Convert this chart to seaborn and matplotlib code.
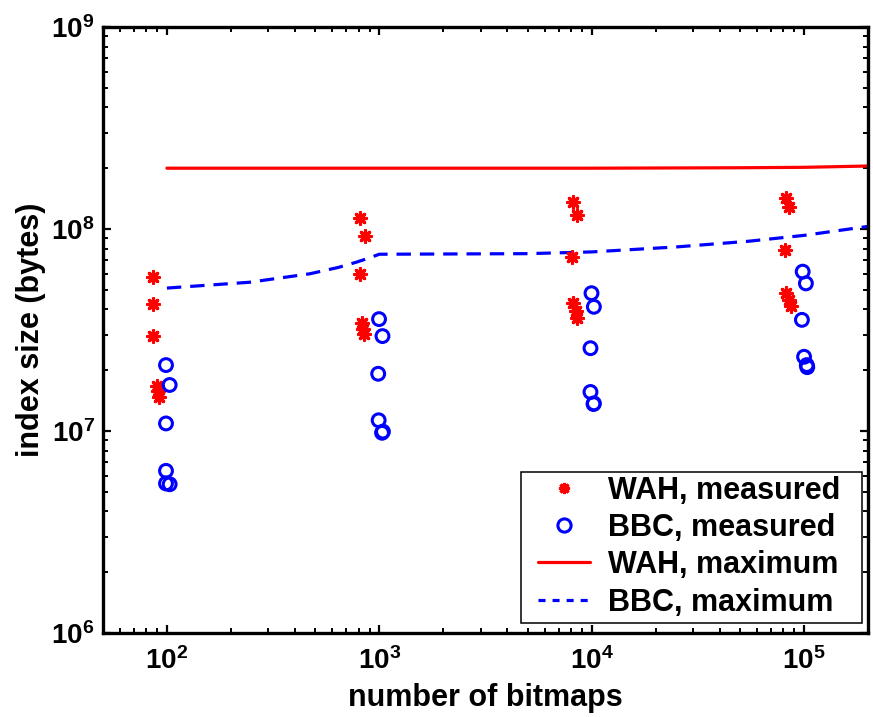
import numpy as np
import pandas as pd
import matplotlib
matplotlib.use("Agg")
import matplotlib.pyplot as plt
import matplotlib.ticker as mticker
from matplotlib.lines import Line2D
from matplotlib.patches import Rectangle
import seaborn as sns

# ---------------- data ----------------
wah_meas_x = [86, 86, 86, 90, 91, 92,
              811, 859, 811, 830, 840, 850,
              8130, 8490, 8040, 8190, 8430, 8550,
              82600, 84700, 81700, 82600, 84700, 86700]
wah_meas_y = [5.8e7, 4.26e7, 2.95e7, 1.67e7, 1.57e7, 1.48e7,
              1.14e8, 9.27e7, 5.98e7, 3.44e7, 3.2e7, 3.02e7,
              1.36e8, 1.17e8, 7.29e7, 4.29e7, 3.93e7, 3.64e7,
              1.42e8, 1.29e8, 7.87e7, 4.81e7, 4.46e7, 4.16e7]

bbc_meas_x = [99, 103, 99, 99, 99, 103,
              997, 1035, 988, 993, 1040, 1030,
              9980, 10240, 9870, 9870, 10240, 10200,
              98500, 102000, 97700, 100000, 103000, 103500]
bbc_meas_y = [2.12e7, 1.69e7, 1.09e7, 6.35e6, 5.5e6, 5.45e6,
              3.58e7, 2.95e7, 1.92e7, 1.13e7, 9.93e6, 9.8e6,
              4.81e7, 4.12e7, 2.57e7, 1.56e7, 1.37e7, 1.36e7,
              6.15e7, 5.38e7, 3.55e7, 2.33e7, 2.12e7, 2.07e7]

wah_max_x = [100, 1000, 10000, 50000, 100000, 200000]
wah_max_y = [2.0e8, 2.0e8, 2.0e8, 2.01e8, 2.02e8, 2.05e8]

bbc_max_x = [100, 245, 470, 640, 780, 900, 1000, 5000, 10000, 25000, 55000, 100000, 200000]
bbc_max_y = [5.1e7, 5.45e7, 6.0e7, 6.45e7, 6.85e7, 7.2e7, 7.5e7, 7.55e7, 7.7e7, 8.15e7, 8.7e7, 9.3e7, 1.03e8]

labels = ["WAH, measured", "BBC, measured", "WAH, maximum", "BBC, maximum"]
x_label = "number of bitmaps"
y_label = "index size (bytes)"

# ---------------- style ----------------
sns.set_style("ticks")
plt.rcParams["font.family"] = ["Liberation Sans", "DejaVu Sans"]
plt.rcParams["font.weight"] = "bold"
plt.rcParams["text.color"] = "black"
plt.rcParams["axes.labelcolor"] = "black"
plt.rcParams["xtick.color"] = "black"
plt.rcParams["ytick.color"] = "black"
plt.rcParams["mathtext.fontset"] = "custom"
plt.rcParams["mathtext.rm"] = "Liberation Sans:bold"
plt.rcParams["mathtext.bf"] = "Liberation Sans:bold"
plt.rcParams["mathtext.it"] = "Liberation Sans:bold"
plt.rcParams["mathtext.default"] = "bf"

W, H = 873, 717
fig = plt.figure(figsize=(W / 100, H / 100), dpi=100)
ax_l, ax_r, ax_t, ax_b = 103, 868, 27, 633
ax = fig.add_axes([ax_l / W, (H - ax_b) / H, (ax_r - ax_l) / W, (ax_b - ax_t) / H])

df_wm = pd.DataFrame({"x": wah_meas_x, "y": wah_meas_y})
df_bm = pd.DataFrame({"x": bbc_meas_x, "y": bbc_meas_y})
df_wx = pd.DataFrame({"x": wah_max_x, "y": wah_max_y})
df_bx = pd.DataFrame({"x": bbc_max_x, "y": bbc_max_y})

ast = (8, 2, 0)
sns.lineplot(data=df_wx, x="x", y="y", ax=ax, color="#ff0000", lw=2.3,
             estimator=None, sort=True)
sns.lineplot(data=df_bx, x="x", y="y", ax=ax, color="#0000ff", lw=2.3,
             estimator=None, sort=True, dashes=False)
ax.lines[-1].set_dashes((4.5, 2.8))

sns.scatterplot(data=df_wm, x="x", y="y", ax=ax, marker=ast, s=70,
                color="#ff0000", edgecolor="#ff0000", linewidth=2.3, zorder=3)
sns.scatterplot(data=df_bm, x="x", y="y", ax=ax, marker="o", s=85,
                color="#0000ff", linewidth=2.2, zorder=3)
ax.collections[-1].set_facecolor("none")
ax.collections[-1].set_edgecolor("#0000ff")

ax.set_xscale("log")
ax.set_yscale("log")
ax.set_xlim(50, 2e5)
ax.set_ylim(1e6, 1e9)

ax.xaxis.set_major_locator(mticker.FixedLocator([1e2, 1e3, 1e4, 1e5]))
ax.yaxis.set_major_locator(mticker.FixedLocator([1e6, 1e7, 1e8, 1e9]))
ax.xaxis.set_minor_locator(mticker.LogLocator(base=10, subs=np.arange(2, 10)))
ax.yaxis.set_minor_locator(mticker.LogLocator(base=10, subs=np.arange(2, 10)))
fmt = mticker.FuncFormatter(lambda v, p: r"$\mathbf{10^{%d}}$" % int(round(np.log10(v))))
ax.xaxis.set_major_formatter(fmt)
ax.yaxis.set_major_formatter(fmt)
ax.xaxis.set_minor_formatter(mticker.NullFormatter())
ax.yaxis.set_minor_formatter(mticker.NullFormatter())

ax.tick_params(which="both", direction="in", top=True, right=True, colors="black")
ax.tick_params(which="major", length=6, width=1.6, labelsize=20)
ax.tick_params(axis="y", which="major", pad=6)
ax.tick_params(axis="x", which="major", pad=10)
ax.tick_params(which="minor", length=3.5, width=1.4)
for sp in ax.spines.values():
    sp.set_visible(True)
    sp.set_linewidth(2.4)
    sp.set_color("black")

ax.set_xlabel(x_label, fontsize=22, fontweight="bold", labelpad=6)
ax.set_ylabel(y_label, fontsize=22, fontweight="bold", labelpad=4)

# legend frame (drawn separately so its padding can match the reference)
box_l, box_r, box_t, box_b = 521, 862, 472, 623
span_x, span_y = ax_r - ax_l, ax_b - ax_t
frame = Rectangle(((box_l - ax_l) / span_x, (ax_b - box_b) / span_y),
                  (box_r - box_l) / span_x, (box_b - box_t) / span_y,
                  transform=ax.transAxes, facecolor="white", edgecolor="black",
                  lw=1.1, zorder=4.9)
ax.add_patch(frame)

handles = [
    Line2D([], [], ls="", marker=ast, color="#ff0000", ms=8, mew=2.2),
    Line2D([], [], ls="", marker="o", mfc="none", mec="#0000ff", ms=9.5, mew=2.2),
    Line2D([], [], color="#ff0000", lw=2.3),
    Line2D([], [], color="#0000ff", lw=2.3, dashes=(2.2, 2.2)),
]
leg_left = 532.5
leg = ax.legend(handles, labels, loc="lower left",
                bbox_to_anchor=((leg_left - ax_l) / span_x, (ax_b - box_b) / span_y),
                borderaxespad=0, frameon=False,
                prop={"size": 22, "weight": "bold"},
                handlelength=1.70, handletextpad=0.59, labelspacing=0.24,
                borderpad=0.18, numpoints=1)
leg.set_zorder(5)

fig.savefig("out.png", dpi=100)
